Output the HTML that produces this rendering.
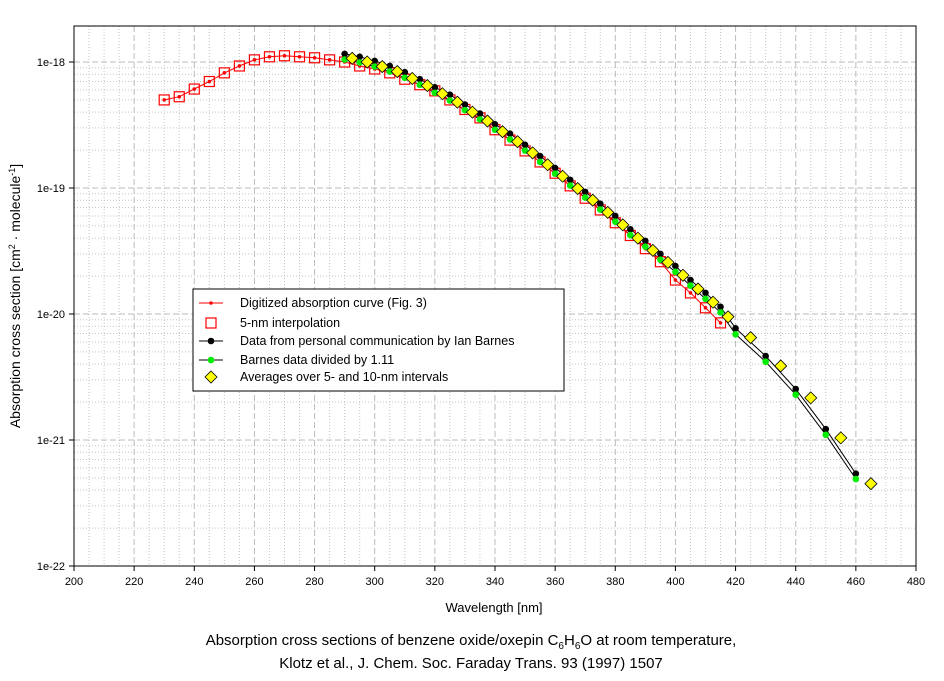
<!DOCTYPE html>
<html><head><meta charset="utf-8">
<style>
body{margin:0;background:#fff;width:944px;height:676px;overflow:hidden;font-family:"Liberation Sans",Arial,sans-serif}
svg text{font-family:"Liberation Sans",Arial,sans-serif}
</style></head>
<body>
<svg id="chart" width="944" height="676" viewBox="0 0 944 676" xmlns="http://www.w3.org/2000/svg">
<g id="grid"></g>
<rect x="74" y="26" width="842" height="540" fill="none" stroke="#000" stroke-width="1"/>
<g id="axes"></g>
<g id="series"></g>
<text x="494" y="612" font-size="13" text-anchor="middle">Wavelength [nm]</text>
<text transform="translate(20,296) rotate(-90)" font-size="14" text-anchor="middle">Absorption cross section [cm<tspan font-size="9" dy="-5">2</tspan><tspan dy="5"> · molecule</tspan><tspan font-size="9" dy="-5">-1</tspan><tspan dy="5">]</tspan></text>
<text x="471" y="645" font-size="15" text-anchor="middle">Absorption cross sections of benzene oxide/oxepin C<tspan font-size="10" dy="4">6</tspan><tspan dy="-4">H</tspan><tspan font-size="10" dy="4">6</tspan><tspan dy="-4">O at room temperature,</tspan></text>
<text x="471" y="668" font-size="15" text-anchor="middle">Klotz et al., J. Chem. Soc. Faraday Trans. 93 (1997) 1507</text>
<g id="legend">
<rect x="193" y="289" width="371" height="102" fill="#fff" stroke="#000"/>
</g>
</svg>
<script>
const xTicks=[200,220,240,260,280,300,320,340,360,380,400,420,440,460,480];
const yTickExps=[-18,-19,-20,-21,-22];
const yTickLabels=["1e-18","1e-19","1e-20","1e-21","1e-22"];
const wlDigit=[230,235,240,245,250,255,260,265,270,275,280,285,290,295,300,305,310,315,320,325,330,335,340,345,350,355,360,365,370,375,380,385,390,395,400,405,410,415];
const csDigit=[5.0e-19,5.3e-19,6.1e-19,7.0e-19,8.2e-19,9.3e-19,1.04e-18,1.10e-18,1.12e-18,1.10e-18,1.08e-18,1.04e-18,1.0e-18,9.3e-19,8.8e-19,8.2e-19,7.3e-19,6.6e-19,5.9e-19,5.0e-19,4.2e-19,3.6e-19,2.9e-19,2.4e-19,1.97e-19,1.61e-19,1.31e-19,1.04e-19,8.3e-20,6.7e-20,5.3e-20,4.2e-20,3.3e-20,2.6e-20,1.86e-20,1.47e-20,1.12e-20,8.5e-21];
const wlBarnes=[290,295,300,305,310,315,320,325,330,335,340,345,350,355,360,365,370,375,380,385,390,395,400,405,410,415,420,430,440,450,460];
const csBarnes=[1.16e-18,1.10e-18,1.02e-18,9.3e-19,8.3e-19,7.3e-19,6.3e-19,5.5e-19,4.6e-19,3.9e-19,3.2e-19,2.7e-19,2.2e-19,1.79e-19,1.44e-19,1.16e-19,9.3e-20,7.5e-20,6.0e-20,4.7e-20,3.8e-20,3.0e-20,2.4e-20,1.86e-20,1.47e-20,1.14e-20,7.7e-21,4.64e-21,2.54e-21,1.22e-21,5.4e-22];
const csBarnesDiv=[1.045e-18,9.9e-19,9.2e-19,8.4e-19,7.5e-19,6.6e-19,5.7e-19,4.95e-19,4.15e-19,3.5e-19,2.9e-19,2.43e-19,1.98e-19,1.61e-19,1.30e-19,1.045e-19,8.4e-20,6.75e-20,5.4e-20,4.23e-20,3.42e-20,2.7e-20,2.16e-20,1.68e-20,1.32e-20,1.03e-20,6.9e-21,4.18e-21,2.29e-21,1.10e-21,4.9e-22];
const wlAvg=[292.5,297.5,302.5,307.5,312.5,317.5,322.5,327.5,332.5,337.5,342.5,347.5,352.5,357.5,362.5,367.5,372.5,377.5,382.5,387.5,392.5,397.5,402.5,407.5,412.5,417.5,425,435,445,455,465];
const csAvg=[1.07e-18,1.0e-18,9.2e-19,8.4e-19,7.4e-19,6.5e-19,5.6e-19,4.8e-19,4.0e-19,3.4e-19,2.8e-19,2.33e-19,1.9e-19,1.53e-19,1.24e-19,9.9e-20,8.0e-20,6.4e-20,5.1e-20,4.0e-20,3.2e-20,2.57e-20,2.03e-20,1.58e-20,1.24e-20,9.5e-21,6.5e-21,3.87e-21,2.16e-21,1.04e-21,4.5e-22];

const NS="http://www.w3.org/2000/svg";
const X0=74,X1=916,Y0=26,Y1=566;
function xs(w){return X0+(w-200)/(280)*(X1-X0);}
function ys(v){return 62+(-18-Math.log10(v))*126;}
function ysExp(e){return 62+(-18-e)*126;}
function mk(tag,attrs,parent){const el=document.createElementNS(NS,tag);for(const k in attrs)el.setAttribute(k,attrs[k]);parent.appendChild(el);return el;}
const grid=document.getElementById('grid'),axes=document.getElementById('axes'),series=document.getElementById('series'),legend=document.getElementById('legend');
for(let w=205;w<480;w+=5){if(w%20===0)continue;const l=mk('line',{x1:xs(w),x2:xs(w),y1:Y0,y2:Y1,stroke:'#c4c4c4','stroke-dasharray':'1,2'},grid);

}
for(let e=-22;e<-17;e++){for(let m=2;m<=9;m++){const y=ys(m*Math.pow(10,e));if(y<Y0)continue;const l=mk('line',{x1:X0,x2:X1,y1:y,y2:y,stroke:'#c4c4c4','stroke-dasharray':'1,2'},grid);

}}
xTicks.forEach(t=>{const x=xs(t);
if(t>200&&t<480){const l=mk('line',{x1:x,x2:x,y1:Y0,y2:Y1,stroke:'#bbb','stroke-dasharray':'6,3'},grid);

}
const tk=mk('line',{x1:x,x2:x,y1:Y1,y2:Y1+5,stroke:'#000'},axes);


const tx=mk('text',{x:x,y:Y1+19,'font-size':'11','text-anchor':'middle'},axes);tx.textContent=t;

});
yTickExps.forEach((e,i)=>{const y=ysExp(e);
if(e>-22){const l=mk('line',{x1:X0,x2:X1,y1:y,y2:y,stroke:'#bbb','stroke-dasharray':'6,3'},grid);

}
const tk=mk('line',{x1:X0-5,x2:X0,y1:y,y2:y,stroke:'#000'},axes);


const tx=mk('text',{x:X0-9,y:y+4,'font-size':'11','text-anchor':'end'},axes);tx.textContent=yTickLabels[i];

});
function pts(w,v){return w.map((a,i)=>xs(a).toFixed(1)+','+ys(v[i]).toFixed(1)).join(' ');}
let p=mk('polyline',{points:pts(wlBarnes,csBarnes),fill:'none',stroke:'#000','stroke-width':1},series);


p=mk('polyline',{points:pts(wlBarnes,csBarnesDiv),fill:'none',stroke:'#000','stroke-width':1},series);


p=mk('polyline',{points:pts(wlDigit,csDigit),fill:'none',stroke:'#f00','stroke-width':1},series);


function sq(x,y,par){return mk('rect',{x:x-5,y:y-5,width:10,height:10,fill:'none',stroke:'#f00','stroke-width':1.2},par);}
function dia(x,y,par){return mk('polygon',{points:`${x},${y-6} ${x+6},${y} ${x},${y+6} ${x-6},${y}`,fill:'#ff0',stroke:'#000','stroke-width':0.8},par);}
wlDigit.forEach((w,i)=>{const r=sq(xs(w),ys(csDigit[i]),series);

});
wlDigit.forEach((w,i)=>{const c=mk('circle',{cx:xs(w),cy:ys(csDigit[i]),r:1.8,fill:'#f00'},series);

});
wlBarnes.forEach((w,i)=>{const c=mk('circle',{cx:xs(w),cy:ys(csBarnes[i]),r:3.3,fill:'#000'},series);

});
wlBarnes.forEach((w,i)=>{const c=mk('circle',{cx:xs(w),cy:ys(csBarnesDiv[i]),r:3.3,fill:'#0e0'},series);

});
wlAvg.forEach((w,i)=>{const d=dia(xs(w),ys(csAvg[i]),series);

});
const LX=211,rows=[303,323,341,360,377];
const labels=["Digitized absorption curve (Fig. 3)","5-nm interpolation","Data from personal communication by Ian Barnes","Barnes data divided by 1.11","Averages over 5- and 10-nm intervals"];
let e;
e=mk('line',{x1:LX-12,x2:LX+12,y1:rows[0],y2:rows[0],stroke:'#f00'},legend);
e=mk('circle',{cx:LX,cy:rows[0],r:1.8,fill:'#f00'},legend);
e=sq(LX,rows[1],legend);
e=mk('line',{x1:LX-12,x2:LX+12,y1:rows[2],y2:rows[2],stroke:'#000'},legend);
e=mk('circle',{cx:LX,cy:rows[2],r:3.3,fill:'#000'},legend);
e=mk('line',{x1:LX-12,x2:LX+12,y1:rows[3],y2:rows[3],stroke:'#000'},legend);
e=mk('circle',{cx:LX,cy:rows[3],r:3.3,fill:'#0e0'},legend);
e=dia(LX,rows[4],legend);
labels.forEach((s,i)=>{const t=mk('text',{x:240,y:rows[i]+4,'font-size':'12.5'},legend);t.textContent=s;

});
</script>
</body></html>
